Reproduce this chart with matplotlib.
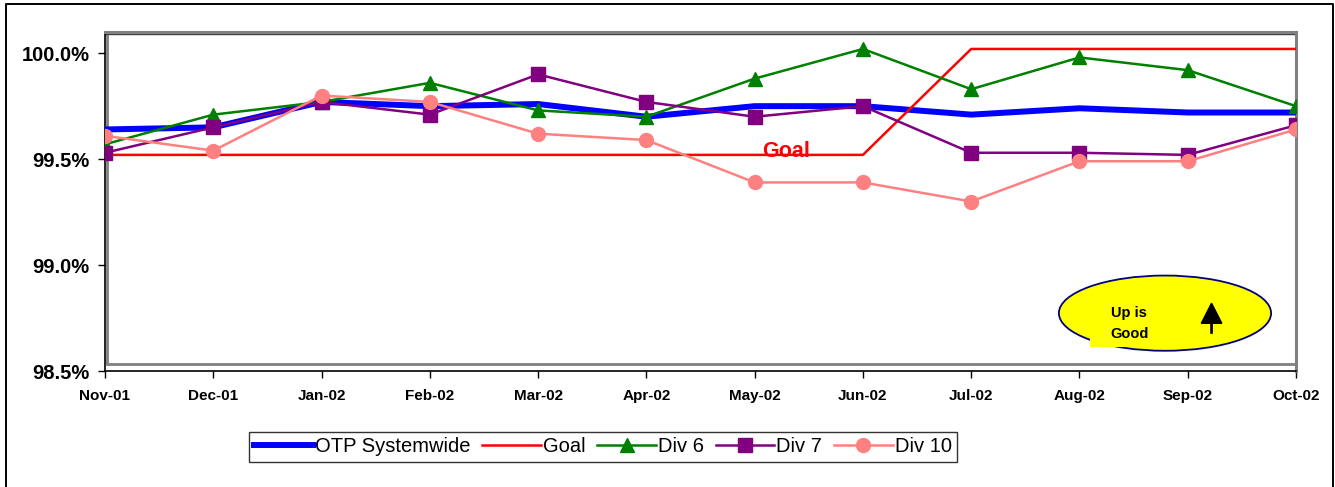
#imports
import matplotlib.pyplot as plt
from matplotlib.patches import Ellipse, Rectangle, FancyArrow
from matplotlib.lines import Line2D
from matplotlib.ticker import FuncFormatter

plt.rcParams['font.family'] = ['Liberation Sans', 'DejaVu Sans']

#monthly on-time performance (%)
months = ["Nov-01", "Dec-01", "Jan-02", "Feb-02", "Mar-02", "Apr-02",
          "May-02", "Jun-02", "Jul-02", "Aug-02", "Sep-02", "Oct-02"]
otp_systemwide = [99.64, 99.65, 99.77, 99.75, 99.76, 99.70, 99.75, 99.75, 99.71, 99.74, 99.72, 99.72]
goal = [99.52, 99.52, 99.52, 99.52, 99.52, 99.52, 99.52, 99.52, 100.02, 100.02, 100.02, 100.02]
div_6 = [99.57, 99.71, 99.77, 99.86, 99.73, 99.70, 99.88, 100.02, 99.83, 99.98, 99.92, 99.75]
div_7 = [99.53, 99.65, 99.77, 99.71, 99.90, 99.77, 99.70, 99.75, 99.53, 99.53, 99.52, 99.66]
div_10 = [99.61, 99.54, 99.80, 99.77, 99.62, 99.59, 99.39, 99.39, 99.30, 99.49, 99.49, 99.64]
y_ticks = [98.5, 99.0, 99.5, 100.0]

x = list(range(len(months)))

fig = plt.figure(figsize=(13.35, 4.87), dpi=100)
ax = fig.add_axes([105 / 1335, 1 - 371 / 487, 1191 / 1335, 339 / 487])

#series
ax.plot(x, otp_systemwide, color="#0000FF", lw=4.3, label="OTP Systemwide", zorder=3)
ax.plot(x, goal, color="#FF0000", lw=1.8, label="Goal", zorder=4)
ax.plot(x, div_6, color="#008000", lw=1.8, marker="^", ms=10, label="Div 6", zorder=5)
ax.plot(x, div_7, color="#800080", lw=1.8, marker="s", ms=9.5, label="Div 7", zorder=6)
ax.plot(x, div_10, color="#FF8080", lw=1.8, marker="o", ms=10, label="Div 10", zorder=7)

ax.text(6.29, 99.512, "Goal", color="#FF0000", fontsize=15.5, fontweight="bold",
        ha="center", va="baseline", zorder=8)

#axes
ax.set_xlim(0, 11)
ax.set_ylim(98.5, 100.1)
ax.set_xticks(x)
ax.set_xticklabels(months, fontsize=11, fontweight="bold")
ax.set_yticks(y_ticks)
ax.yaxis.set_major_formatter(FuncFormatter(lambda v, p: f"{v:.1f}%"))
for lbl in ax.get_yticklabels():
    lbl.set_fontsize(14.5)
    lbl.set_fontweight("bold")
ax.tick_params(axis="y", length=5, width=1, pad=6)
ax.tick_params(axis="x", length=5, width=1, pad=8)

for side in ["top", "right"]:
    ax.spines[side].set_color("#808080")
    ax.spines[side].set_linewidth(2.2)
ax.spines["left"].set_linewidth(1.2)
ax.spines["bottom"].set_linewidth(1.2)

#plot area border
ax.add_patch(Rectangle((0.002, 0.02), 0.998, 0.98, transform=ax.transAxes,
                       fill=False, edgecolor="#808080", lw=2, zorder=1))
ax.plot([0, 1], [0.995, 0.995], transform=ax.transAxes, color="#404040", lw=1, zorder=1)

#"Up is Good" callout
ax.add_patch(Ellipse((9.79, 98.773), 1.96, 0.355, facecolor="#FFFF00",
                     edgecolor="#000080", lw=1.3, zorder=9))
ax.add_patch(Rectangle((9.10, 98.611), 0.6, 0.2, facecolor="#FFFF00",
                       edgecolor="none", zorder=10))
ax.text(9.29, 98.773, "Up is", fontsize=10.5, fontweight="bold", va="center", zorder=11)
ax.text(9.29, 98.674, "Good", fontsize=10.5, fontweight="bold", va="center", zorder=11)
ax.add_patch(FancyArrow(10.22, 98.678, 0, 0.142, width=0.012, head_width=0.19,
                        head_length=0.095, length_includes_head=True,
                        color="black", zorder=11))

#legend
leg = fig.legend(loc="center", bbox_to_anchor=(603 / 1335, 1 - 447 / 487), ncol=5,
                 fontsize=14.5, frameon=True, fancybox=False, numpoints=1,
                 handlelength=2.9, handletextpad=0.1, columnspacing=0.6,
                 borderpad=0.25, borderaxespad=0)
leg.get_frame().set_edgecolor("black")
leg.get_frame().set_linewidth(1)

#outer chart border
fig.add_artist(Line2D([6 / 1335, 6 / 1335, 1333 / 1335, 1333 / 1335],
                      [0, 1 - 4 / 487, 1 - 4 / 487, 0],
                      transform=fig.transFigure, color="black", lw=1.4))

fig.savefig("out.png", dpi=100)
